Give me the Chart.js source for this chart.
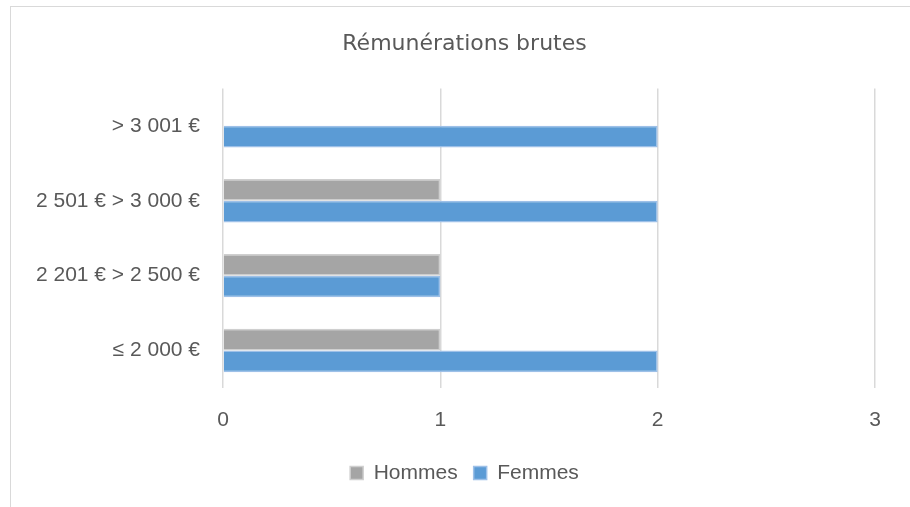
<!DOCTYPE html>
<html><head><meta charset="utf-8">
<script src="https://cdn.jsdelivr.net/npm/chart.js@4/dist/chart.umd.min.js"></script>
<style>
html,body{margin:0;padding:0;background:#fff;width:910px;height:507px;overflow:hidden}
#box{position:absolute;left:10px;top:6px;width:940px;height:520px;border:1.5px solid #d9d9d9;box-sizing:border-box}
#wrap{position:absolute;left:11px;top:7px;width:930px;height:500px}
</style></head><body>
<div id="box"></div>
<div id="wrap"><canvas id="c" width="930" height="500"></canvas></div>
<script>
const categories = ["> 3 001 €", "2 501 € > 3 000 €", "2 201 € > 2 500 €", "≤ 2 000 €"];
const hommes = [0, 1, 1, 1];
const femmes = [2, 2, 1, 2];
const xTicks = [0, 1, 2, 3];
const titleText = "Rémunérations brutes";

const txt = "#595959";
const lab = {family: "Liberation Sans", size: 21};
new Chart(document.getElementById("c"), {
  type: "bar",
  data: {
    labels: categories,
    datasets: [
      {label: "Hommes", data: hommes, backgroundColor: "#A5A5A5", borderColor: "#CFCFCF", borderWidth: 1.5, barPercentage: 1, categoryPercentage: 0.58},
      {label: "Femmes", data: femmes, backgroundColor: "#5B9BD5", borderColor: "#9DC0E8", borderWidth: 1.5, barPercentage: 1, categoryPercentage: 0.58}
    ]
  },
  options: {
    indexAxis: "y",
    responsive: false,
    animation: false,
    layout: {padding: {left: 0, right: 23, top: 0, bottom: 13.5}},
    plugins: {
      title: {display: true, text: titleText, color: txt, font: {family: "DejaVu Sans", size: 22, weight: "normal"}, padding: {top: 24, bottom: 31}},
      legend: {position: "bottom", labels: {color: txt, font: lab, boxWidth: 13, boxHeight: 13, padding: 16},
        onClick: null},
      tooltip: {enabled: false}
    },
    scales: {
      x: {min: 0, max: 3, afterBuildTicks: s => { s.ticks = xTicks.map(v => ({value: v})); },
        grid: {color: "#D9D9D9", lineWidth: 1.5, drawTicks: false},
        border: {display: false},
        ticks: {color: txt, font: lab, padding: 20},
        afterFit: s => { s.height = 58.5; }
      },
      y: {grid: {display: false}, border: {display: false},
        ticks: {color: txt, font: lab, padding: 15},
        afterFit: s => { s.width = 212; }
      },
      yR: {type: "category", labels: categories, position: "right", display: true,
        grid: {display: false}, border: {display: false}, ticks: {display: false},
        afterFit: s => { s.width = 43; }
      }
    }
  }
});
</script>
</body></html>
